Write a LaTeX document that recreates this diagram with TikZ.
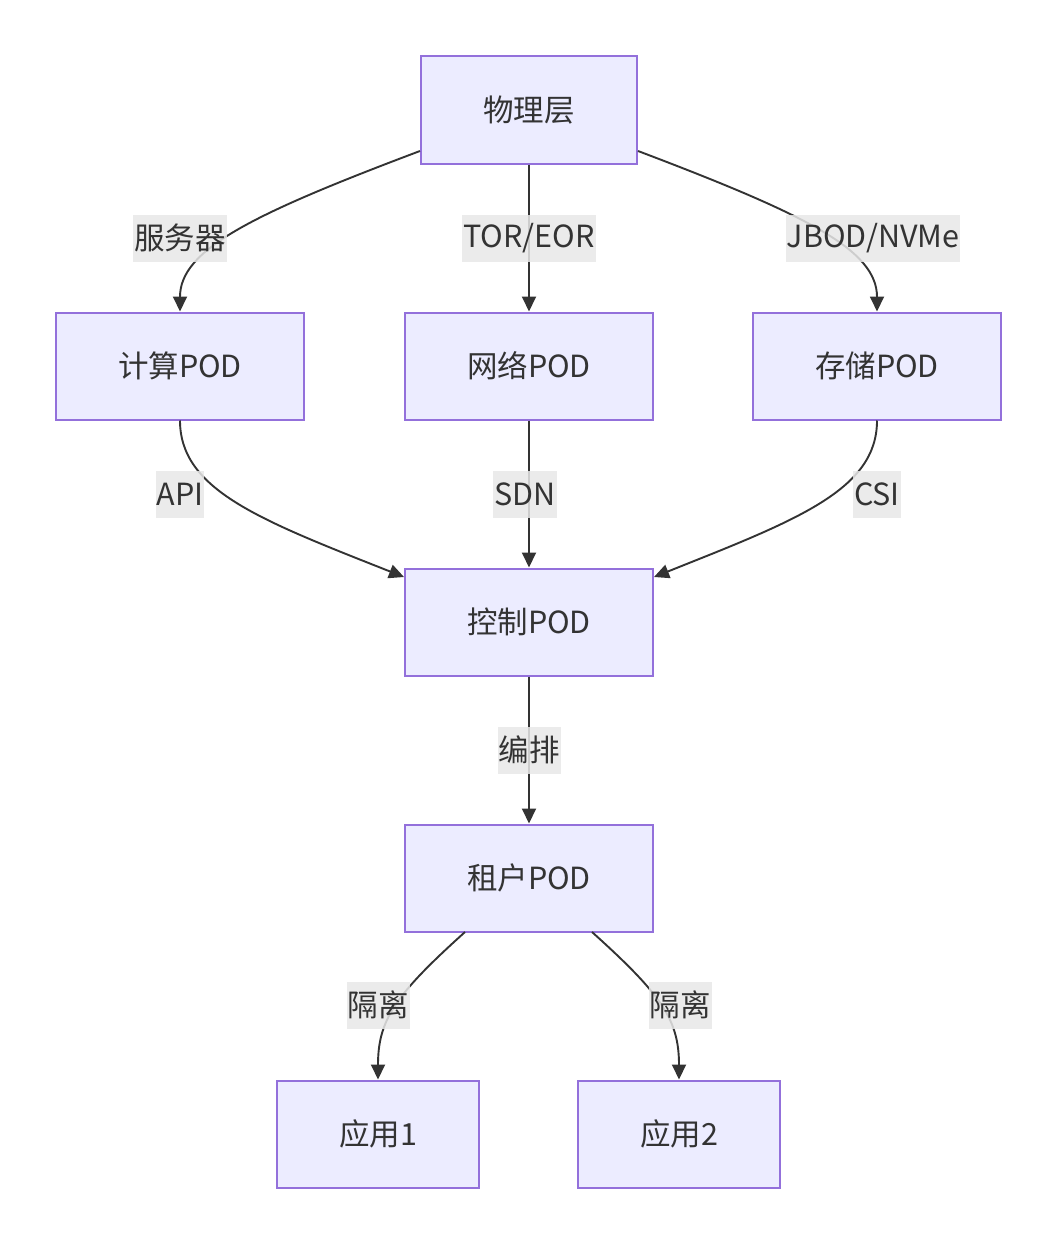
\documentclass[tikz,border=0pt]{standalone}
\usepackage{fontspec}
\setmainfont{Noto Sans CJK SC}
\usetikzlibrary{arrows.meta}
\definecolor{nodefill}{HTML}{ECECFF}
\definecolor{nodeline}{HTML}{9370DB}
\definecolor{edgecol}{HTML}{333333}
\definecolor{lblbg}{HTML}{E8E8E8}
\begin{document}
\begin{tikzpicture}[x=1pt,y=-1pt,
  box/.style={draw=nodeline,fill=nodefill,line width=2pt,minimum height=107pt,inner sep=0pt,text=edgecol,font=\fontsize{30.5}{36}\selectfont},
  edge/.style={draw=edgecol,line width=1.9pt,-{Triangle[length=15pt,width=14pt]}},
  lbl/.style={fill=lblbg,fill opacity=0.85,text opacity=1,text=edgecol,inner xsep=1pt,inner ysep=0pt,minimum height=47pt,font=\fontsize{30.5}{36}\selectfont}]
\useasboundingbox[fill=white] (0,0) rectangle (1057,1244);
\node[box,minimum width=216pt] (phy) at (529,110) {物理层};
\node[box,minimum width=248pt] (cmp) at (180,366) {计算POD};
\node[box,minimum width=248pt] (net) at (529,366) {网络POD};
\node[box,minimum width=248pt] (sto) at (877,366) {存储POD};
\node[box,minimum width=248pt] (ctl) at (529,622) {控制POD};
\node[box,minimum width=248pt] (ten) at (529,878) {租户POD};
\node[box,minimum width=202pt] (app1) at (378,1134) {应用1};
\node[box,minimum width=202pt] (app2) at (679,1134) {应用2};
% edges
\draw[edge] (phy.west |- 0,151) .. controls (250,215) and (180,250) .. (cmp.north);
\draw[edge] (phy.south) -- (net.north);
\draw[edge] (phy.east |- 0,151) .. controls (807,215) and (877,250) .. (sto.north);
\draw[edge] (cmp.south) .. controls (180,490) and (260,520) .. (ctl.west |- 0,577);
\draw[edge] (net.south) -- (ctl.north);
\draw[edge] (sto.south) .. controls (877,490) and (797,520) .. (ctl.east |- 0,577);
\draw[edge] (ctl.south) -- (ten.north);
\coordinate (t1) at (465,932);
\coordinate (t2) at (592,932);
\draw[edge] (t1) .. controls (395,995) and (378,1020) .. (app1.north);
\draw[edge] (t2) .. controls (662,995) and (679,1020) .. (app2.north);
% labels
\node[lbl] (l1) at (180,238) {服务器};
\node[lbl] (l2) at (529,238) {TOR/EOR};
\node[lbl] (l3) at (873,238) {JBOD/NVMe};
\node[lbl] (l4) at (180,494) {API};
\node[lbl] (l5) at (525,494) {SDN};
\node[lbl] (l6) at (877,494) {CSI};
\node[lbl] (l7) at (529,750) {编排};
\node[lbl] (l8) at (378,1005) {隔离};
\node[lbl] (l9) at (680,1005) {隔离};
\end{tikzpicture}
\end{document}
